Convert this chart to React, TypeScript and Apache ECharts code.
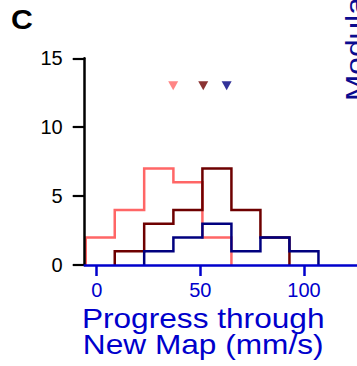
import React, { useEffect, useRef } from "react";
import * as echarts from "echarts";

// Histogram bin edges (mm/s) and counts per group
const binEdges = [-5.3, 8.7, 22.9, 37.0, 51.0, 65.0, 79.0, 93.0, 107.0];
const countsPink = [2, 4, 7, 6, 2, 0, 0, 0];
const countsDarkRed = [0, 1, 3, 4, 7, 4, 2, 0];
const countsNavy = [0, 0, 1, 2, 3, 1, 2, 1];

// Group means shown as inverted triangles
const meanValues = [36.9, 51.4, 62.7];
const meanLevel = 13;

// Axis ticks
const xTicks = [0, 50, 100];
const yTicks = [0, 5, 10, 15];

const PINK = "#ff6666";
const DARKRED = "#6e0000";
const NAVY = "#00007f";
const BLUE = "#0000cc";
const FONT = "'Liberation Sans', Arial, Helvetica, sans-serif";

function stairs(edges: number[], counts: number[]): number[][] {
  let first = counts.findIndex((c) => c > 0);
  let last = counts.length - 1;
  while (last >= 0 && counts[last] === 0) last--;
  const pts: number[][] = [[edges[first], 0]];
  for (let i = first; i <= last; i++) {
    pts.push([edges[i], counts[i]]);
    pts.push([edges[i + 1], counts[i]]);
  }
  pts.push([edges[last + 1], 0]);
  return pts;
}

export default function App() {
  const ref = useRef<HTMLDivElement>(null);
  useEffect(() => {
    if (!ref.current) return;
    const chart = echarts.init(ref.current, undefined, { renderer: "svg" });
    const colors = [PINK, DARKRED, NAVY];
    const hists = [countsPink, countsDarkRed, countsNavy];
    const lineSeries = hists.map((counts, i) => ({
      type: "line",
      data: stairs(binEdges, counts),
      showSymbol: false,
      clip: false,
      lineStyle: { color: colors[i], width: 2.5, join: "miter" },
      z: 2 + i,
    }));
    const markerSeries = meanValues.map((v, i) => ({
      type: "scatter",
      data: [[v, meanLevel]],
      symbol: "triangle",
      symbolRotate: 180,
      symbolSize: [10, 9],
      itemStyle: { color: colors[i] },
      z: 6,
    }));
    chart.setOption({
      animation: false,
      grid: { left: 84.7, right: 0, top: 58.3, bottom: 101 },
      xAxis: {
        type: "value",
        min: -5.8,
        max: 125.6,
        z: 10,
        axisLine: { show: true, onZero: false, lineStyle: { color: BLUE, width: 2.5 } },
        axisTick: {
          show: true,
          customValues: xTicks,
          length: 11,
          lineStyle: { color: BLUE, width: 2.5 },
        },
        axisLabel: {
          customValues: xTicks,
          color: BLUE,
          fontSize: 20,
          fontFamily: FONT,
          margin: 15,
        },
        splitLine: { show: false },
      },
      yAxis: {
        type: "value",
        min: 0,
        max: 15,
        interval: 5,
        z: 9,
        axisLine: { show: true, onZero: false, lineStyle: { color: "#000", width: 2.5 } },
        axisTick: {
          show: true,
          customValues: yTicks,
          length: 12,
          lineStyle: { color: "#000", width: 2.2 },
        },
        axisLabel: {
          customValues: yTicks,
          color: "#000",
          fontSize: 20,
          fontFamily: FONT,
          margin: 22,
        },
        splitLine: { show: false },
      },
      graphic: [
        {
          type: "text",
          x: 11,
          y: 19.8,
          scaleX: 1.1,
          style: {
            text: "C",
            fontSize: 27.5,
            fontWeight: "bold",
            fontFamily: FONT,
            fill: "#000",
            textAlign: "left",
            textVerticalAlign: "middle",
          },
        },
        {
          type: "text",
          x: 203.2,
          y: 331.3,
          scaleX: 1.13,
          style: {
            text: "Progress through\nNew Map (mm/s)",
            fontSize: 28,
            lineHeight: 26,
            fontFamily: FONT,
            fill: BLUE,
            textAlign: "center",
            textVerticalAlign: "middle",
          },
        },
        {
          type: "text",
          x: 355,
          y: 101,
          rotation: Math.PI / 2,
          scaleX: 1.13,
          style: {
            text: "Modulation",
            fontSize: 28,
            fontFamily: FONT,
            fill: "#0b0b8f",
            textAlign: "left",
            textVerticalAlign: "middle",
          },
        },
      ],
      series: [...lineSeries, ...markerSeries],
    });
    return () => chart.dispose();
  }, []);
  return (
    <div
      ref={ref}
      style={{ position: "fixed", left: 0, top: 0, width: 357, height: 366, background: "#fff" }}
    />
  );
}
